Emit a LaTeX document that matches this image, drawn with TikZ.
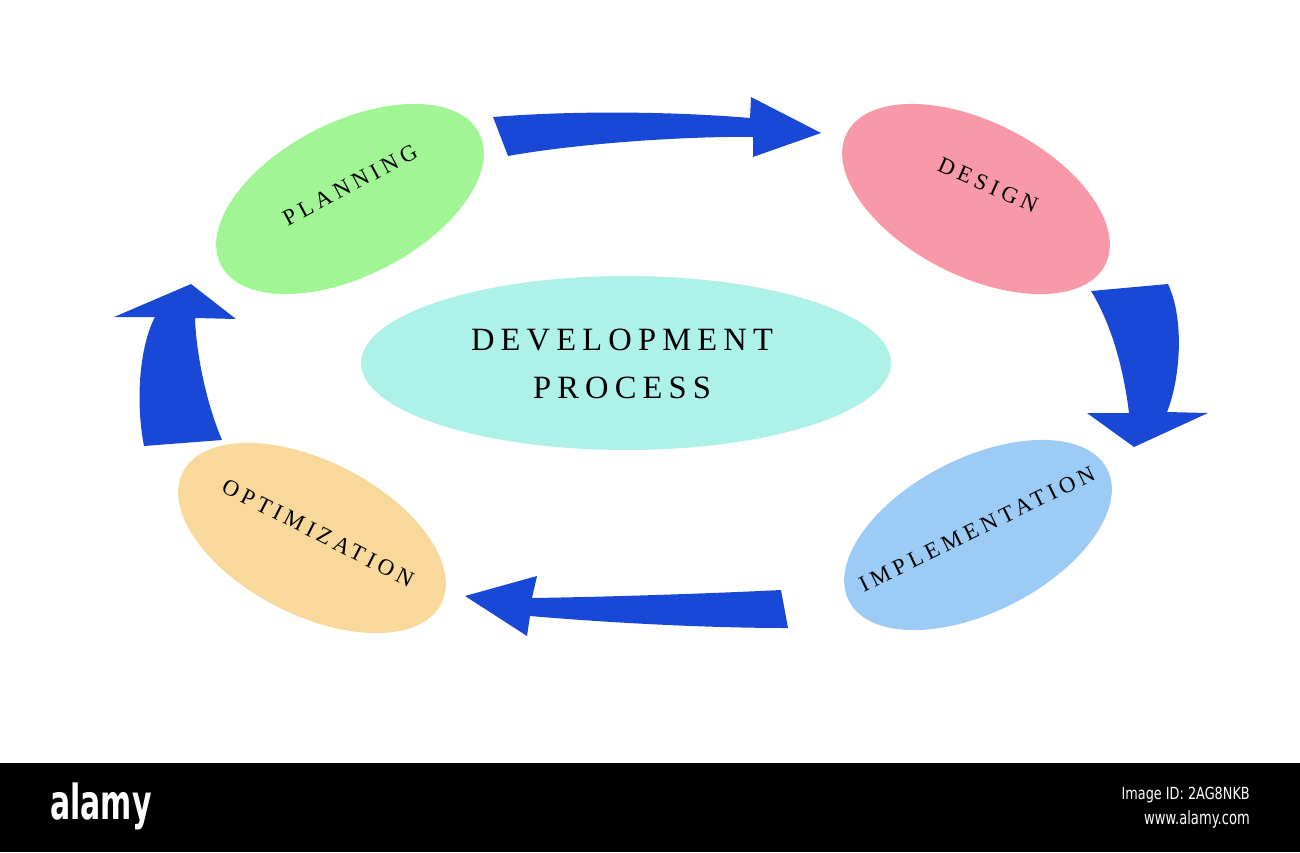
\documentclass[tikz,border=0pt]{standalone}
\usepackage{fontspec}
\setmainfont{Liberation Serif}
\newfontfamily\phasefont[LetterSpace=20]{Liberation Serif}
\newfontfamily\titlefont[LetterSpace=19]{Liberation Serif}
\newfontfamily\markfont{DejaVu Sans}
\usetikzlibrary{shapes.geometric}
\definecolor{arrowblue}{RGB}{26,72,214}
\definecolor{planfill}{RGB}{161,245,148}
\definecolor{designfill}{RGB}{247,153,169}
\definecolor{implfill}{RGB}{156,203,246}
\definecolor{optfill}{RGB}{248,216,155}
\definecolor{centerfill}{RGB}{173,241,233}
\begin{document}
\begin{tikzpicture}[x=0.02cm,y=-0.02cm,
  phase/.style={ellipse,inner sep=0pt,minimum width=5.8cm,minimum height=3.08cm},
  phaselabel/.style={font=\phasefont\fontsize{13}{15}\selectfont,inner sep=0pt},
  flowarrow/.style={fill=arrowblue}]
\useasboundingbox (0,0) rectangle (1300,852);
% phases
\node[phase,fill=planfill,rotate=27] (planning) at (350,199) {};
\node[phase,fill=designfill,rotate=-27] (design) at (976,199) {};
\node[phase,fill=implfill,rotate=27] (implementation) at (978,535) {};
\node[phase,fill=optfill,rotate=-27] (optimization) at (312,538) {};
\node[ellipse,fill=centerfill,minimum width=10.6cm,minimum height=3.48cm] (process) at (626,363) {};
% labels
\node[phaselabel,rotate=28] (planningtext) at (350,185) {PLANNING};
\node[phaselabel,rotate=-24] (designtext) at (988,185) {DESIGN};
\node[phaselabel,rotate=26] (implementationtext) at (977,529) {IMPLEMENTATION};
\node[phaselabel,rotate=-27] (optimizationtext) at (318,533) {OPTIMIZATION};
\node[align=center,inner sep=0pt,font=\titlefont\fontsize{18.5}{27}\selectfont] (processtext) at (622,364) {DEVELOPMENT\\PROCESS};
% arrows
\fill[flowarrow] (493,117) .. controls (580,110) and (680,112) .. (750,118) -- (751,97) -- (821,133) -- (753,157) -- (753,137) .. controls (690,136) and (580,143) .. (508,156) -- cycle;
\fill[flowarrow] (1091,291) -- (1168,284) .. controls (1185,320) and (1180,380) .. (1167,412) -- (1208,413) -- (1134,447) -- (1087,413) -- (1129,413) .. controls (1125,380) and (1115,330) .. (1091,291) -- cycle;
\fill[flowarrow] (781,590) -- (788,628) .. controls (700,628) and (600,622) .. (530,616) -- (527,636) -- (465,596) -- (537,576) -- (532,598) .. controls (600,597) and (700,594) .. (781,590) -- cycle;
\fill[flowarrow] (144,446) -- (222,440) .. controls (205,400) and (196,350) .. (195,318) -- (236,319) -- (191,284) -- (114,317) -- (155,317) .. controls (140,345) and (135,400) .. (144,446) -- cycle;
% bottom bar
\fill[black] (0,763) rectangle (1300,852);
\node[text=white,inner sep=0pt,xscale=0.62,font=\markfont\bfseries\fontsize{27.5}{30}\selectfont] (brand) at (101,806) {alamy};
\node[text=white,anchor=east,inner sep=0pt,xscale=0.77,font=\markfont\fontsize{9.5}{11}\selectfont] (imageid) at (1250,795) {Image ID: 2AG8NKB};
\node[text=white,anchor=east,inner sep=0pt,xscale=0.71,font=\markfont\fontsize{10.5}{12}\selectfont] (website) at (1250,819) {www.alamy.com};
\end{tikzpicture}
\end{document}
